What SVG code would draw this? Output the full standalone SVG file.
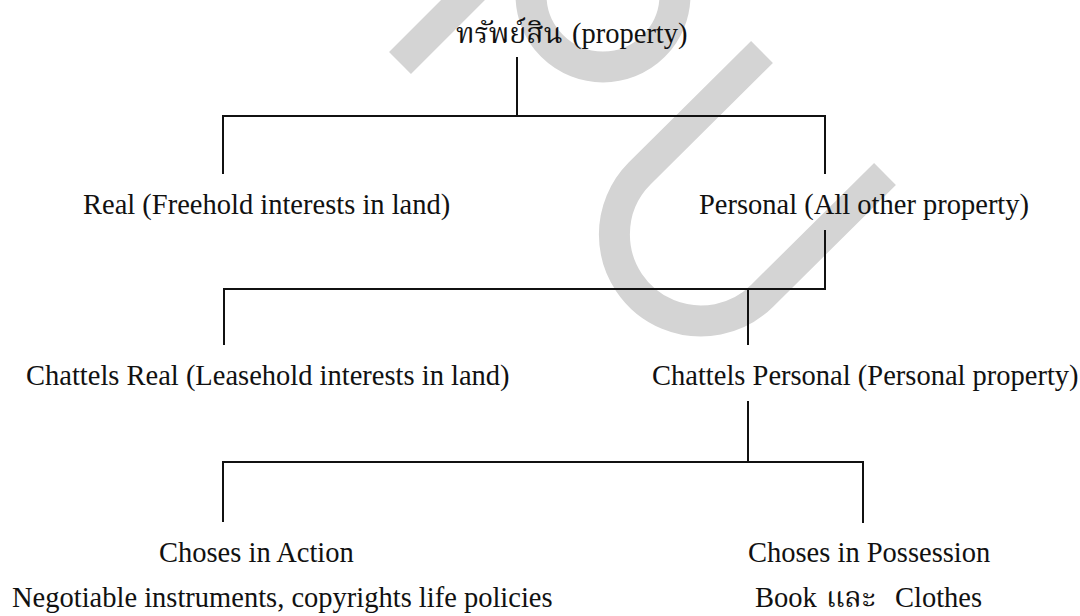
<svg xmlns="http://www.w3.org/2000/svg" width="1080" height="616" viewBox="0 0 1080 616">
  <style>
    .t { font-family: "Liberation Serif", "Noto Serif Thai", "Noto Sans Thai", "DejaVu Serif", serif; font-size: 28.5px; fill: #111; }
    .c { fill: none; stroke: #111; stroke-width: 2; stroke-linecap: square; }
    .wm { fill: none; stroke: #d4d4d4; stroke-width: 31; }
  </style>
  <rect x="0" y="0" width="1080" height="616" fill="#ffffff"/>
  <g id="watermark">
    <path class="wm" d="M400 63 L490 -27" stroke-linecap="butt"/>
    <path class="wm" d="M531 -5 A72 72 0 0 0 675 -5"/>
    <path class="wm" d="M762 52 L639.8 173.3 A86.6 86.6 0 0 0 614.4 234.5 A86.6 86.6 0 0 0 762.2 295.7 L885 174"/>
  </g>
  <g id="connectors">
    <path class="c" d="M517 58 V116"/>
    <path class="c" d="M223 173 V116 H825 V173"/>
    <path class="c" d="M825 231 V289 H224 V344"/>
    <path class="c" d="M748 289 V344"/>
    <path class="c" d="M748 402 V462"/>
    <path class="c" d="M223 521 V462 H863 V522"/>
  </g>
  <g id="node-property">
    <text class="t" y="43"><tspan x="456">ทรัพย์สิน</tspan><tspan x="572">(property)</tspan></text>
  </g>
  <g id="node-real">
    <text class="t" x="83" y="214">Real (Freehold interests in land)</text>
  </g>
  <g id="node-personal">
    <text class="t" x="699" y="214">Personal (All other property)</text>
  </g>
  <g id="node-chattels-real">
    <text class="t" x="26" y="385">Chattels Real (Leasehold interests in land)</text>
  </g>
  <g id="node-chattels-personal">
    <text class="t" x="652" y="385">Chattels Personal (Personal property)</text>
  </g>
  <g id="node-choses-action">
    <text class="t" x="159" y="562">Choses in Action</text>
    <text class="t" x="12" y="607">Negotiable instruments, copyrights life policies</text>
  </g>
  <g id="node-choses-possession">
    <text class="t" x="748" y="562">Choses in Possession</text>
    <text class="t" y="607"><tspan x="755">Book</tspan><tspan x="826">และ</tspan><tspan x="895">Clothes</tspan></text>
  </g>
</svg>
